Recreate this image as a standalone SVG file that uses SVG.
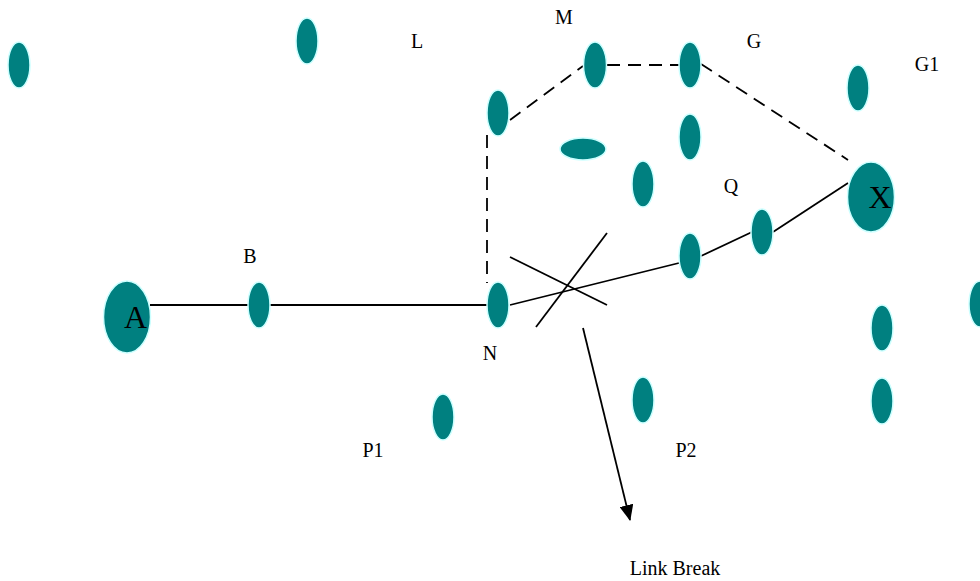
<svg xmlns="http://www.w3.org/2000/svg" width="980" height="581" viewBox="0 0 980 581">
<style>
.n{fill:#008080;stroke:#ccffff;stroke-width:1.5}
.l{fill:none;stroke:#000;stroke-width:1.8}
.d{fill:none;stroke:#000;stroke-width:1.8;stroke-dasharray:13 8}
text{font-family:"Liberation Serif","Times New Roman",serif;font-size:20px;fill:#000}
.big{font-size:32px}
</style>
<defs>
<marker id="ah" markerWidth="16" markerHeight="14" refX="15" refY="7" orient="auto" markerUnits="userSpaceOnUse" viewBox="0 0 16 14">
<path d="M0,0 L16,7 L0,14 z" fill="#000"/>
</marker>
</defs>
<rect width="980" height="581" fill="#fff"/>
<g id="connectors">
<line class="l" x1="150" y1="305" x2="248" y2="305"/>
<line class="l" x1="270" y1="305" x2="487" y2="305"/>
<line class="l" x1="510" y1="305" x2="679" y2="263"/>
<line class="l" x1="701" y1="256" x2="752" y2="232"/>
<line class="l" x1="773" y1="232" x2="848" y2="183"/>
<line class="d" x1="487" y1="135" x2="487" y2="283"/>
<line class="d" x1="510" y1="120" x2="583" y2="66"/>
<line class="d" x1="607" y1="65" x2="679" y2="65"/>
<line class="d" x1="701" y1="64" x2="848" y2="160"/>
<line class="l" x1="510" y1="257" x2="607" y2="305"/>
<line class="l" x1="536" y1="327" x2="607" y2="233"/>
<line class="l" x1="583" y1="328" x2="630" y2="520" marker-end="url(#ah)"/>
</g>
<g id="n1"><ellipse class="n" cx="19" cy="65" rx="11" ry="23"/></g>
<g id="n2"><ellipse class="n" cx="307" cy="41" rx="11" ry="23"/></g>
<g id="A"><ellipse class="n" cx="127" cy="317" rx="23.5" ry="36"/><text class="big" x="135.5" y="328" text-anchor="middle">A</text></g>
<g id="B"><ellipse class="n" cx="259" cy="305" rx="11" ry="23"/><text x="250" y="263" text-anchor="middle">B</text></g>
<g id="N"><ellipse class="n" cx="498" cy="305" rx="11" ry="23"/><text x="490" y="360" text-anchor="middle">N</text></g>
<g id="n3"><ellipse class="n" cx="498" cy="113" rx="11" ry="23"/></g>
<g id="M"><ellipse class="n" cx="595" cy="65" rx="11.5" ry="23"/><text x="564" y="24" text-anchor="middle">M</text></g>
<g id="G"><ellipse class="n" cx="690" cy="65" rx="11" ry="23"/><text x="754" y="48" text-anchor="middle">G</text></g>
<g id="L"><text x="417" y="48" text-anchor="middle">L</text></g>
<g id="n4"><ellipse class="n" cx="690" cy="137" rx="11" ry="23"/></g>
<g id="n5"><ellipse class="n" cx="583" cy="149" rx="23" ry="11"/></g>
<g id="n6"><ellipse class="n" cx="643" cy="184" rx="11" ry="23"/></g>
<g id="n7"><ellipse class="n" cx="690" cy="256" rx="11" ry="23"/></g>
<g id="Q"><ellipse class="n" cx="762" cy="232" rx="11" ry="23"/><text x="731" y="193" text-anchor="middle">Q</text></g>
<g id="X"><ellipse class="n" cx="871" cy="197" rx="23.5" ry="35"/><text class="big" x="880" y="208" text-anchor="middle">X</text></g>
<g id="G1"><ellipse class="n" cx="858" cy="88" rx="11" ry="23"/><text x="927" y="71" text-anchor="middle">G1</text></g>
<g id="n8"><ellipse class="n" cx="980" cy="304" rx="11" ry="23"/></g>
<g id="n9"><ellipse class="n" cx="882" cy="328" rx="11" ry="23"/></g>
<g id="n10"><ellipse class="n" cx="882" cy="401" rx="11" ry="23"/></g>
<g id="n11"><ellipse class="n" cx="643" cy="400" rx="11" ry="23"/><text x="686" y="457" text-anchor="middle">P2</text></g>
<g id="n12"><ellipse class="n" cx="443" cy="417" rx="11" ry="23"/><text x="373" y="457" text-anchor="middle">P1</text></g>
<g id="lb"><text x="675" y="575" text-anchor="middle">Link Break</text></g>
</svg>
